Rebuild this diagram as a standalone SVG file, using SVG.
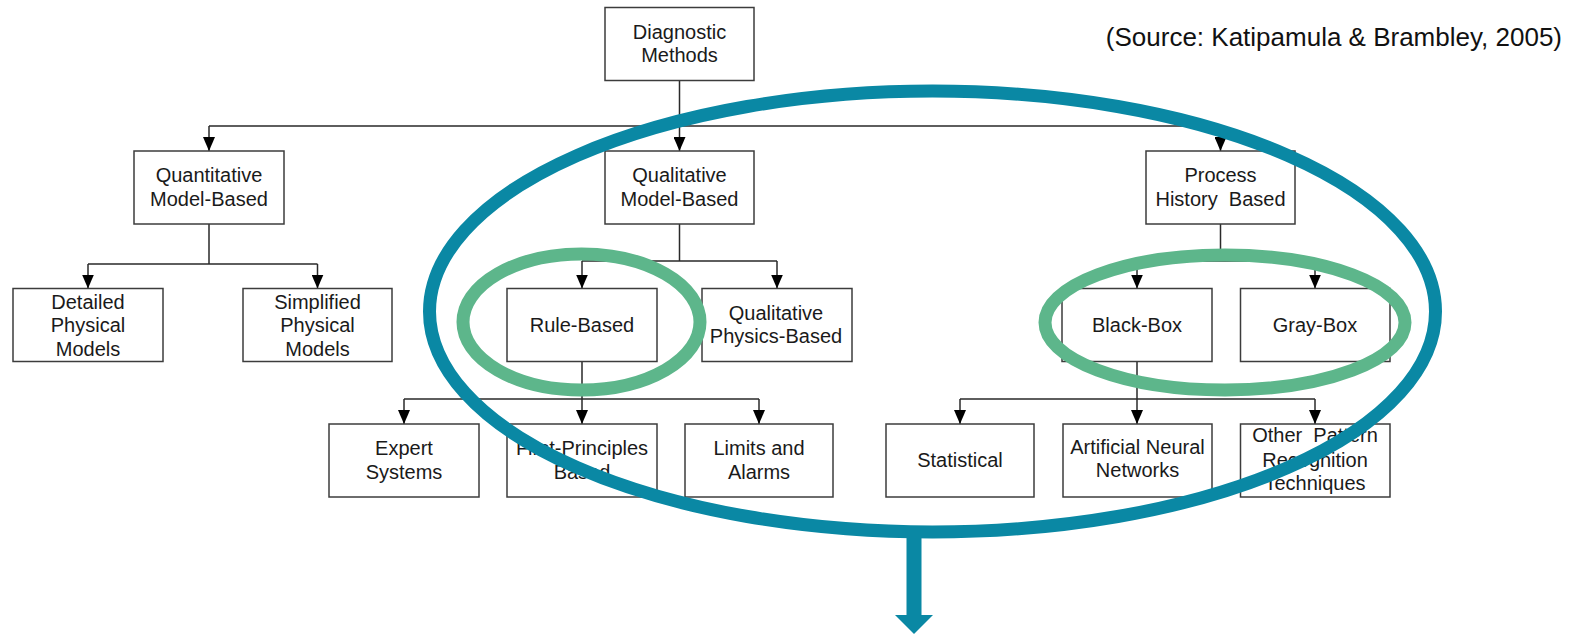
<svg xmlns="http://www.w3.org/2000/svg" width="1581" height="634" viewBox="0 0 1581 634">
<style>
.box{fill:#fff;stroke:#3c3c3c;stroke-width:1.5}
.t{font-family:"Liberation Sans",Arial,sans-serif;font-size:20px;fill:#1a1a1a;text-anchor:middle}
.c{fill:none;stroke:#2a2a2a;stroke-width:1.5}
.green{fill:none;stroke:#5db68b;stroke-width:13}
.blue{fill:none;stroke:#0a88a4;stroke-width:13}
</style>
<defs>
<marker id="ah" markerUnits="userSpaceOnUse" markerWidth="14" markerHeight="12" refX="14" refY="6" orient="auto">
<path d="M0,0 L14,6 L0,12 Z" fill="#000"/>
</marker>
</defs>
<rect width="1581" height="634" fill="#fff"/>
<text x="1562" y="46" style="font-family:'Liberation Sans',Arial,sans-serif;font-size:26px;fill:#111;text-anchor:end">(Source: Katipamula &amp; Brambley, 2005)</text>

<g id="connectors">
<path class="c" d="M679.5,80.5 V126 M209,126 H1220.5"/>
<path class="c" marker-end="url(#ah)" d="M209,126 V151"/>
<path class="c" marker-end="url(#ah)" d="M679.5,126 V151"/>
<path class="c" marker-end="url(#ah)" d="M1220.5,126 V151"/>
<path class="c" d="M209,224 V264 M88,264 H317.5"/>
<path class="c" marker-end="url(#ah)" d="M88,264 V288.5"/>
<path class="c" marker-end="url(#ah)" d="M317.5,264 V288.5"/>
<path class="c" d="M679.5,224 V261 M582,261 H777"/>
<path class="c" marker-end="url(#ah)" d="M582,261 V288.5"/>
<path class="c" marker-end="url(#ah)" d="M777,261 V288.5"/>
<path class="c" d="M1220.5,224 V261 M1137,261 H1315"/>
<path class="c" marker-end="url(#ah)" d="M1137,261 V288.5"/>
<path class="c" marker-end="url(#ah)" d="M1315,261 V288.5"/>
<path class="c" d="M582,361.5 V399 M404,399 H759"/>
<path class="c" marker-end="url(#ah)" d="M404,399 V424"/>
<path class="c" marker-end="url(#ah)" d="M582,399 V424"/>
<path class="c" marker-end="url(#ah)" d="M759,399 V424"/>
<path class="c" d="M1137,361.5 V399 M960,399 H1315"/>
<path class="c" marker-end="url(#ah)" d="M960,399 V424"/>
<path class="c" marker-end="url(#ah)" d="M1137,399 V424"/>
<path class="c" marker-end="url(#ah)" d="M1315,399 V424"/>
</g>

<g id="n-diagnostic"><rect class="box" x="605" y="7.5" width="149" height="73"/>
<text class="t" x="679.5" y="38.5">Diagnostic</text><text class="t" x="679.5" y="62">Methods</text></g>

<g id="n-quantitative"><rect class="box" x="134" y="151" width="150" height="73"/>
<text class="t" x="209" y="182">Quantitative</text><text class="t" x="209" y="205.5">Model-Based</text></g>

<g id="n-qualitative"><rect class="box" x="605" y="151" width="149" height="73"/>
<text class="t" x="679.5" y="182">Qualitative</text><text class="t" x="679.5" y="205.5">Model-Based</text></g>

<g id="n-process"><rect class="box" x="1146" y="151" width="149" height="73"/>
<text class="t" x="1220.5" y="182">Process</text><text class="t" x="1220.5" y="205.5" xml:space="preserve">History  Based</text></g>

<g id="n-detailed"><rect class="box" x="13" y="288.5" width="150" height="73"/>
<text class="t" x="88" y="308.5">Detailed</text><text class="t" x="88" y="332">Physical</text><text class="t" x="88" y="355.5">Models</text></g>

<g id="n-simplified"><rect class="box" x="243" y="288.5" width="149" height="73"/>
<text class="t" x="317.5" y="308.5">Simplified</text><text class="t" x="317.5" y="332">Physical</text><text class="t" x="317.5" y="355.5">Models</text></g>

<g id="n-rule"><rect class="box" x="507" y="288.5" width="150" height="73"/>
<text class="t" x="582" y="331.5">Rule-Based</text></g>

<g id="n-qualphys"><rect class="box" x="702" y="288.5" width="150" height="73"/>
<text class="t" x="776" y="319.5">Qualitative</text><text class="t" x="776" y="343">Physics-Based</text></g>

<g id="n-blackbox"><rect class="box" x="1062" y="288.5" width="150" height="73"/>
<text class="t" x="1137" y="331.5">Black-Box</text></g>

<g id="n-graybox"><rect class="box" x="1240.5" y="288.5" width="149.5" height="73"/>
<text class="t" x="1315" y="331.5">Gray-Box</text></g>

<g id="n-expert"><rect class="box" x="329" y="424" width="150" height="73"/>
<text class="t" x="404" y="455">Expert</text><text class="t" x="404" y="478.5">Systems</text></g>

<g id="n-firstprinciples"><rect class="box" x="507" y="424" width="150" height="73"/>
<text class="t" x="582" y="455">First-Principles</text><text class="t" x="582" y="478.5">Based</text></g>

<g id="n-limits"><rect class="box" x="685" y="424" width="148" height="73"/>
<text class="t" x="759" y="455">Limits and</text><text class="t" x="759" y="478.5">Alarms</text></g>

<g id="n-statistical"><rect class="box" x="886" y="424" width="148" height="73"/>
<text class="t" x="960" y="466.5">Statistical</text></g>

<g id="n-ann"><rect class="box" x="1063" y="424" width="149" height="73"/>
<text class="t" x="1137.5" y="453.5">Artificial Neural</text><text class="t" x="1137.5" y="477">Networks</text></g>

<g id="n-other"><rect class="box" x="1240.5" y="424" width="149.5" height="73"/>
<text class="t" x="1315" y="442" xml:space="preserve">Other  Pattern</text><text class="t" x="1315" y="466.5">Recognition</text><text class="t" x="1315" y="490">Techniques</text></g>

<g id="highlights">
<ellipse class="green" cx="581.5" cy="322" rx="118.5" ry="68"/>
<ellipse class="green" cx="1225" cy="322.5" rx="180" ry="67.5"/>
<ellipse class="blue" cx="932.5" cy="311.5" rx="503" ry="220.5"/>
<rect x="906.5" y="530" width="15" height="87" fill="#0a88a4"/>
<polygon points="895,615 933,615 914,634" fill="#0a88a4"/>
</g>
</svg>
